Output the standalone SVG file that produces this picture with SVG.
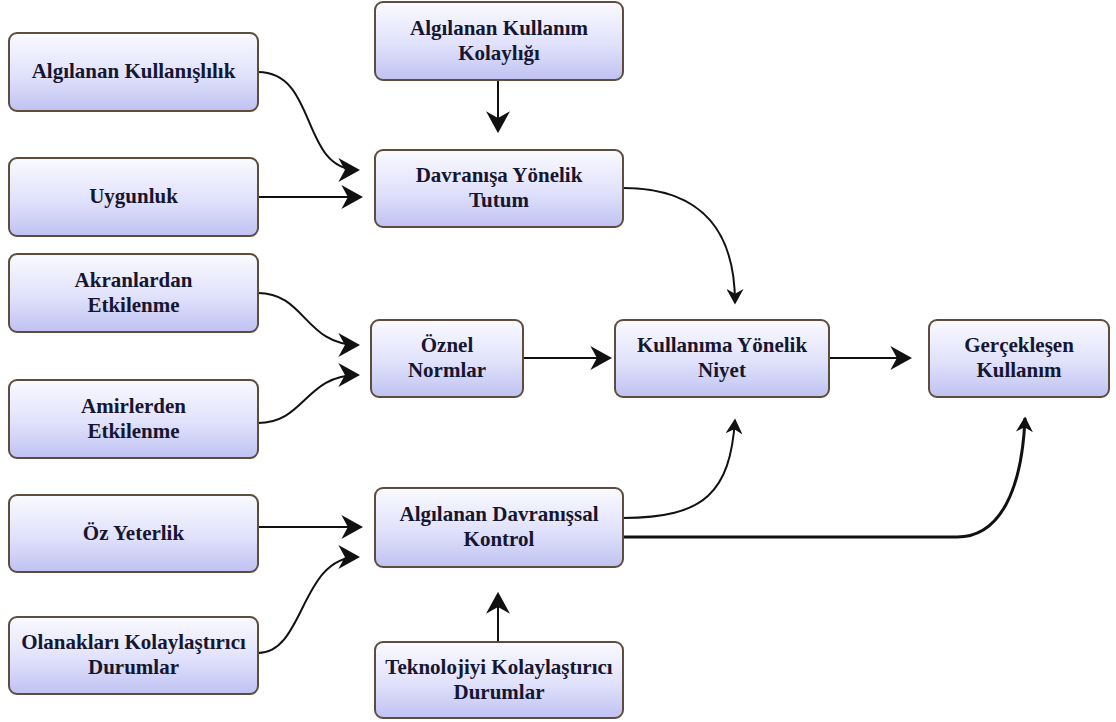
<svg xmlns="http://www.w3.org/2000/svg" width="1116" height="722" viewBox="0 0 1116 722">
  <style>
    .box { fill: url(#boxFill); stroke: #5e4c3c; stroke-width: 2; }
    .lbl { font-weight: bold; font-size: 21px; fill: #161630; text-anchor: middle; }
    .edge { fill: none; stroke: #111; stroke-width: 2; }
    .big { marker-end: url(#head); }
    .small { marker-end: url(#headSmall); }
  </style>
  <defs>
    <linearGradient id="boxFill" x1="0" y1="0" x2="0" y2="1">
      <stop offset="0" stop-color="#fafaff"/>
      <stop offset="0.55" stop-color="#e0e1fb"/>
      <stop offset="1" stop-color="#bfc2f2"/>
    </linearGradient>
    <marker id="head" markerUnits="userSpaceOnUse" markerWidth="22" markerHeight="24" viewBox="0 0 20 22" refX="18" refY="11" orient="auto">
      <path d="M0,0 L20,11 L0,22 L6,11 Z" fill="#111"/>
    </marker>
    <marker id="headSmall" markerUnits="userSpaceOnUse" markerWidth="16" markerHeight="17" viewBox="0 0 20 22" refX="18" refY="11" orient="auto">
      <path d="M0,0 L20,11 L0,22 L6,11 Z" fill="#111"/>
    </marker>
  </defs>

  <rect width="1116" height="722" fill="#ffffff"/>

  <!-- connectors -->
  <g id="connectors">
    <path class="edge big" d="M258,72 C318,72 300,170 358,170"/>
    <path class="edge big" d="M258,197 L361,197"/>
    <path class="edge big" d="M498,80 L498,131"/>
    <path class="edge small" d="M623,188 C705,188 735,235 735,303"/>
    <path class="edge big" d="M258,293 C305,293 305,345 358,345"/>
    <path class="edge big" d="M258,423 C305,423 305,375 358,375"/>
    <path class="edge big" d="M523,358 L610,358"/>
    <path class="edge big" d="M829,358 L910,358"/>
    <path class="edge big" d="M258,527 L361,527"/>
    <path class="edge big" d="M258,653 C305,653 300,557 358,557"/>
    <path class="edge big" d="M498,642 L498,594"/>
    <path class="edge small" d="M623,518 C705,518 730,492 735,420"/>
    <path class="edge small" d="M623,537 L957,537 C1000,537 1022,490 1025,418" style="stroke-width:3"/>
  </g>

  <!-- nodes -->
  <g font-family="Liberation Serif, Times New Roman, DejaVu Serif, serif">
  <g id="algilanan-kullanislilik">
    <rect class="box" x="9" y="33" width="249" height="78" rx="8"/>
    <text class="lbl" x="133.5" y="78">Algılanan Kullanışlılık</text>
  </g>
  <g id="uygunluk">
    <rect class="box" x="9" y="158" width="249" height="78" rx="8"/>
    <text class="lbl" x="133.5" y="203">Uygunluk</text>
  </g>
  <g id="algilanan-kullanim-kolayligi">
    <rect class="box" x="375" y="2" width="248" height="78" rx="8"/>
    <text class="lbl" x="499" y="35">Algılanan Kullanım</text>
    <text class="lbl" x="499" y="60">Kolaylığı</text>
  </g>
  <g id="davranisa-yonelik-tutum">
    <rect class="box" x="375" y="150" width="248" height="77" rx="8"/>
    <text class="lbl" x="499" y="182">Davranışa Yönelik</text>
    <text class="lbl" x="499" y="207">Tutum</text>
  </g>
  <g id="akranlardan-etkilenme">
    <rect class="box" x="9" y="254" width="249" height="78" rx="8"/>
    <text class="lbl" x="133.5" y="287">Akranlardan</text>
    <text class="lbl" x="133.5" y="312">Etkilenme</text>
  </g>
  <g id="amirlerden-etkilenme">
    <rect class="box" x="9" y="380" width="249" height="78" rx="8"/>
    <text class="lbl" x="133.5" y="413">Amirlerden</text>
    <text class="lbl" x="133.5" y="438">Etkilenme</text>
  </g>
  <g id="oznel-normlar">
    <rect class="box" x="371" y="320" width="152" height="77" rx="8"/>
    <text class="lbl" x="447" y="352">Öznel</text>
    <text class="lbl" x="447" y="377">Normlar</text>
  </g>
  <g id="kullanima-yonelik-niyet">
    <rect class="box" x="615" y="320" width="214" height="77" rx="8"/>
    <text class="lbl" x="722" y="352">Kullanıma Yönelik</text>
    <text class="lbl" x="722" y="377">Niyet</text>
  </g>
  <g id="gerceklesen-kullanim">
    <rect class="box" x="929" y="320" width="180" height="77" rx="8"/>
    <text class="lbl" x="1019" y="352">Gerçekleşen</text>
    <text class="lbl" x="1019" y="377">Kullanım</text>
  </g>
  <g id="oz-yeterlik">
    <rect class="box" x="9" y="495" width="249" height="77" rx="8"/>
    <text class="lbl" x="133.5" y="540">Öz Yeterlik</text>
  </g>
  <g id="olanaklari-kolaylastirici-durumlar">
    <rect class="box" x="9" y="617" width="249" height="77" rx="8"/>
    <text class="lbl" x="133.5" y="649">Olanakları Kolaylaştırıcı</text>
    <text class="lbl" x="133.5" y="674">Durumlar</text>
  </g>
  <g id="algilanan-davranissal-kontrol">
    <rect class="box" x="375" y="488" width="248" height="79" rx="8"/>
    <text class="lbl" x="499" y="521">Algılanan Davranışsal</text>
    <text class="lbl" x="499" y="546">Kontrol</text>
  </g>
  <g id="teknolojiyi-kolaylastirici-durumlar">
    <rect class="box" x="375" y="642" width="248" height="76" rx="8"/>
    <text class="lbl" x="499" y="674">Teknolojiyi Kolaylaştırıcı</text>
    <text class="lbl" x="499" y="699">Durumlar</text>
  </g>
  </g>
</svg>
